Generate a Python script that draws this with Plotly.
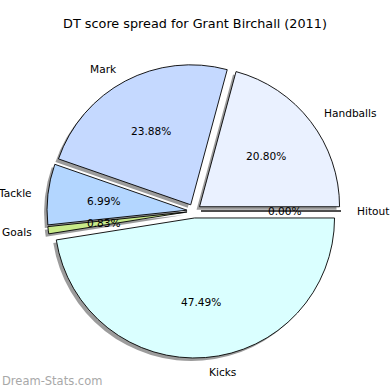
import math
import plotly.graph_objects as go

labels = ["Hitout", "Handballs", "Mark", "Tackle", "Goals", "Kicks"]
values = [0.00, 20.80, 23.88, 6.99, 0.83, 47.49]
colors = ["#FFFFFF", "#EAF1FF", "#C5D9FF", "#B3D6FF", "#C8EA8A", "#DAFFFF"]
title = "DT score spread for Grant Birchall (2011)"

W = H = 390
cx, cy, size = 194, 211, 294
pull = 0.05
dom_x = [(cx - size / 2) / W, (cx + size / 2) / W]
dom_y = [1 - (cy + size / 2) / H, 1 - (cy - size / 2) / H]
sh = 3
sdom_x = [dom_x[0] - sh / W, dom_x[1] - sh / W]
sdom_y = [dom_y[0] - sh / H, dom_y[1] - sh / H]

font = dict(family="DejaVu Sans", size=10.6, color="#000000")

common = dict(labels=labels, values=values, sort=False, direction="counterclockwise",
              rotation=90, pull=pull, hoverinfo="skip", showlegend=False, textinfo="none")

fig = go.Figure()
fig.add_trace(go.Pie(**common, domain=dict(x=sdom_x, y=sdom_y),
                     marker=dict(colors=["rgba(90,90,90,0.6)"] * len(values), line=dict(width=0))))
fig.add_trace(go.Pie(**common, domain=dict(x=dom_x, y=dom_y),
                     marker=dict(colors=colors, line=dict(color="#000000", width=0.9))))

# text placement like matplotlib: percent at 0.6 r, label at 1.1 r
r = size / (2 * (1 + pull))
total = sum(values)
annotations = []
start = 0.0
for lab, v in zip(labels, values):
    th = math.radians((start + v / 2) / total * 360)
    start += v
    ox = cx + pull * r * math.cos(th)
    oy = cy - pull * r * math.sin(th)
    px, py = ox + 0.6 * r * math.cos(th), oy - 0.6 * r * math.sin(th)
    lx, ly = ox + 1.1 * r * math.cos(th), oy - 1.1 * r * math.sin(th)
    annotations.append(dict(text=f"{v:.2f}%", x=px / W, y=1 - py / H, xref="paper", yref="paper",
                            xanchor="center", yanchor="middle", showarrow=False, font=font))
    annotations.append(dict(text=lab, x=lx / W, y=1 - ly / H, xref="paper", yref="paper",
                            xanchor="left" if math.cos(th) >= 0 else "right", yanchor="middle",
                            showarrow=False, font=font))

annotations.append(dict(text="Dream-Stats.com", x=0, y=0.0, xref="paper", yref="paper",
                        xanchor="left", yanchor="bottom", showarrow=False,
                        font=dict(family="DejaVu Sans", size=11.5, color="#A8A8A8")))

fig.update_layout(
    width=W, height=H, margin=dict(l=0, r=0, t=0, b=0),
    paper_bgcolor="#FFFFFF", plot_bgcolor="#FFFFFF",
    title=dict(text=title, x=0.5, xanchor="center", y=1 - 24 / H, yanchor="middle",
               font=dict(family="DejaVu Sans", size=12.8, color="#000000")),
    annotations=annotations,
)

fig.write_html("out.html", config={"displayModeBar": False},
               post_script="document.body.style.margin='0px';")
